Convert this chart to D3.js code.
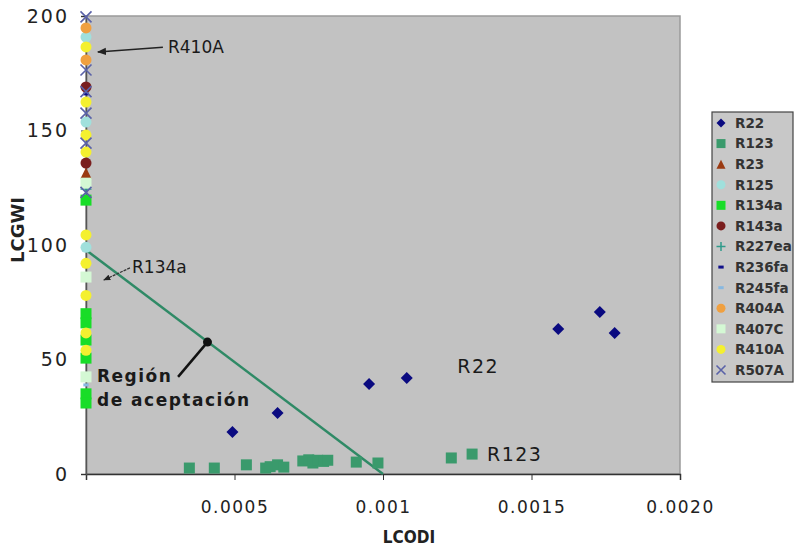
<!DOCTYPE html>
<html>
<head>
<meta charset="utf-8">
<title>LCODI vs LCGWI</title>
<style>
    body { margin: 0; background: #fff; }
    svg { display: block; font-family: "DejaVu Sans", sans-serif; }
</style>
</head>
<body>
<svg width="801" height="549"></svg>
<script src="https://d3js.org/d3.v7.min.js"></script>
<script>

// ---- data (x = LCODI, y = LCGWI) ----
var names = ["R22", "R123", "R23", "R125", "R134a", "R143a", "R227ea", "R236fa", "R245fa", "R404A", "R407C", "R410A", "R507A"];

var r22 = [[0.000493, 18.3], [0.000645, 26.6], [0.000953, 39.3], [0.00108, 41.9], [0.00159, 63.3], [0.00173, 70.7], [0.00178, 61.6]];
var r123 = [[0.000348, 2.6], [0.000432, 2.6], [0.00054, 4], [0.000605, 2.6], [0.00062, 3.2], [0.000645, 4], [0.000666, 3],
            [0.00073, 5.7], [0.00075, 6.2], [0.000764, 4.8], [0.00078, 6], [0.0008, 5.5], [0.000814, 6],
            [0.00091, 5.2], [0.000983, 4.8], [0.00123, 7], [0.0013, 8.7]];
var r23 = [[0, 131.4]];
var r125 = [[0, 190.8], [0, 153.7], [0, 99]];
var r134a = [[0, 119.6], [0, 70], [0, 66], [0, 58.5], [0, 50.6], [0, 35], [0, 31]];
var r143a = [[0, 169], [0, 135.8]];
var r227ea = [[0, 124.5]];
var r236fa = [[0, 166]];
var r245fa = [[0, 38.9]];
var r404a = [[0, 194.8], [0, 180.8]];
var r407c = [[0, 127], [0, 86], [0, 42.4]];
var r410a = [[0, 186.5], [0, 162.4], [0, 148], [0, 140.6], [0, 104.4], [0, 92], [0, 78], [0, 61.6], [0, 54]];
var r507a = [[0, 199.6], [0, 176.4], [0, 167], [0, 157.6], [0, 144.5], [0, 123]];

var seriesData = [r22, r123, r23, r125, r134a, r143a, r227ea, r236fa, r245fa, r404a, r407c, r410a, r507a];

// acceptance limit line
var limitX = [0, 0.001];
var limitY = [97.8, 0];

var xTicks = [0, 0.0005, 0.001, 0.0015, 0.002];
var xTickLabels = ["", "0.0005", "0.001", "0.0015", "0.0020"];
var yTicks = [0, 50, 100, 150, 200];

// ---- marker styles ----
var styles = {
    "R22":    { shape: "diamond", fill: "#0a0a80", size: 12 },
    "R123":   { shape: "square",  fill: "#3a9a6c", size: 11 },
    "R23":    { shape: "triangle", fill: "#9a3a12", size: 11 },
    "R125":   { shape: "circle",  fill: "#a0e0dc", size: 11 },
    "R134a":  { shape: "square",  fill: "#18dd28", size: 11 },
    "R143a":  { shape: "circle",  fill: "#7a1e1e", size: 11 },
    "R227ea": { shape: "plus",    fill: "#2f9a8a", size: 11 },
    "R236fa": { shape: "dash",    fill: "#10108a", size: 8 },
    "R245fa": { shape: "dash",    fill: "#88b8e0", size: 8 },
    "R404A":  { shape: "circle",  fill: "#f0a040", size: 11 },
    "R407C":  { shape: "square",  fill: "#d4f8d4", size: 11 },
    "R410A":  { shape: "circle",  fill: "#f4f030", size: 11 },
    "R507A":  { shape: "cross",   fill: "#5a62a8", size: 11 }
};

var svg = d3.select("svg");
var margin = { left: 86, top: 16, right: 680, bottom: 474 };

var x = d3.scaleLinear().domain([0, 0.002]).range([margin.left, margin.right]);
var y = d3.scaleLinear().domain([0, 200]).range([margin.bottom, margin.top]);

// plot area
svg.append("rect")
    .attr("x", x(0)).attr("y", y(200))
    .attr("width", x(0.002) - x(0)).attr("height", y(0) - y(200))
    .attr("fill", "#c2c2c2")
    .attr("stroke", "#9a9a9a").attr("stroke-width", 1.5);

// axes
var xAxis = svg.append("g")
    .attr("transform", "translate(0," + y(0) + ")")
    .call(d3.axisBottom(x).tickValues(xTicks).tickSize(6).tickPadding(21)
        .tickFormat(function(d, i) { return xTickLabels[i]; }));
xAxis.attr("font-family", "DejaVu Sans").attr("font-size", 17);
xAxis.select(".domain").attr("stroke", "#333").attr("stroke-width", 1.5);
xAxis.selectAll(".tick line").attr("stroke", "#333");
xAxis.selectAll(".tick text").attr("fill", "#222").attr("letter-spacing", 1.5);

var yAxis = svg.append("g")
    .attr("transform", "translate(" + x(0) + ",0)")
    .call(d3.axisLeft(y).tickValues(yTicks).tickSize(5).tickPadding(12));
yAxis.attr("font-family", "DejaVu Sans").attr("font-size", 19);
yAxis.select(".domain").attr("stroke", "#555").attr("stroke-width", 1.5);
yAxis.selectAll(".tick line").attr("stroke", "#333");
yAxis.selectAll(".tick text").attr("fill", "#222").attr("letter-spacing", 2).attr("dy", "0.34em");

// axis titles
svg.append("text")
    .attr("x", 409).attr("y", 543)
    .attr("text-anchor", "middle")
    .attr("font-family", "DejaVu Sans Condensed, DejaVu Sans")
    .attr("font-weight", "bold").attr("font-size", 17).attr("fill", "#222")
    .text("LCODI");

svg.append("text")
    .attr("transform", "translate(24," + 230 + ") rotate(-90)")
    .attr("text-anchor", "middle")
    .attr("font-weight", "bold").attr("font-size", 18).attr("fill", "#222")
    .text("LCGWI");

// acceptance line
svg.append("path")
    .datum(d3.zip(limitX, limitY))
    .attr("d", d3.line().x(function(d) { return x(d[0]); }).y(function(d) { return y(d[1]); }))
    .attr("stroke", "#2f8a66").attr("stroke-width", 2.5).attr("fill", "none");

// markers
function drawMarker(g, st) {
    var s = st.size, h = s / 2;
    if (st.shape == "square") {
        g.append("rect").attr("x", -h).attr("y", -h).attr("width", s).attr("height", s).attr("fill", st.fill);
    } else if (st.shape == "circle") {
        g.append("circle").attr("r", h).attr("fill", st.fill);
    } else if (st.shape == "diamond") {
        g.append("path").attr("d", "M0," + (-h) + "L" + h + ",0L0," + h + "L" + (-h) + ",0Z").attr("fill", st.fill);
    } else if (st.shape == "triangle") {
        g.append("path").attr("d", "M0," + (-h) + "L" + h + "," + h + "L" + (-h) + "," + h + "Z").attr("fill", st.fill);
    } else if (st.shape == "plus") {
        g.append("path").attr("d", "M" + (-h) + ",0H" + h + "M0," + (-h) + "V" + h).attr("stroke", st.fill).attr("stroke-width", 1.5);
    } else if (st.shape == "dash") {
        g.append("path").attr("d", "M" + (-h / 1.5) + ",0H" + (h / 1.5)).attr("stroke", st.fill).attr("stroke-width", 3);
    } else if (st.shape == "cross") {
        g.append("path").attr("d", "M" + (-h) + "," + (-h) + "L" + h + "," + h + "M" + h + "," + (-h) + "L" + (-h) + "," + h)
            .attr("stroke", st.fill).attr("stroke-width", 1.6);
    }
}

var pts = svg.append("g");
names.forEach(function(name, i) {
    seriesData[i].forEach(function(p) {
        var g = pts.append("g").attr("transform", "translate(" + x(p[0]) + "," + y(p[1]) + ")");
        drawMarker(g, styles[name]);
    });
});

// annotations
var ann = svg.append("g").attr("fill", "#1a1a1a");

svg.append("defs").append("marker")
    .attr("id", "arrow").attr("viewBox", "0 0 10 10").attr("refX", 9).attr("refY", 5)
    .attr("markerWidth", 6).attr("markerHeight", 6).attr("orient", "auto")
    .append("path").attr("d", "M0,1L10,5L0,9Z").attr("fill", "#222");

ann.append("line")
    .attr("x1", x(0.000259)).attr("y1", y(186.3)).attr("x2", x(0.00004)).attr("y2", y(184.3))
    .attr("stroke", "#222").attr("stroke-width", 1.5).attr("marker-end", "url(#arrow)");
ann.append("text").attr("x", x(0.000276)).attr("y", y(186.5)).attr("dy", "0.36em")
    .attr("font-size", 17).text("R410A");

ann.append("line")
    .attr("x1", x(0.000148)).attr("y1", y(90)).attr("x2", x(0.00006)).attr("y2", y(84.7))
    .attr("stroke", "#333").attr("stroke-width", 1.2).attr("stroke-dasharray", "3,1").attr("marker-end", "url(#arrow)");
ann.append("text").attr("x", x(0.000155)).attr("y", y(90.4)).attr("dy", "0.36em")
    .attr("font-size", 17).text("R134a");

ann.append("line")
    .attr("x1", x(0.000409)).attr("y1", y(57.6)).attr("x2", x(0.00031)).attr("y2", y(42.4))
    .attr("stroke", "#111").attr("stroke-width", 2.5);
ann.append("circle").attr("cx", x(0.000409)).attr("cy", y(57.6)).attr("r", 4.5).attr("fill", "#111");
ann.append("text").attr("x", x(0.000037)).attr("y", y(42.8)).attr("dy", "0.36em")
    .attr("font-size", 17).attr("font-weight", "bold").attr("letter-spacing", 1.5).text("Región");
ann.append("text").attr("x", x(0.000037)).attr("y", y(32.3)).attr("dy", "0.36em")
    .attr("font-size", 17).attr("font-weight", "bold").attr("letter-spacing", 1.5).text("de aceptación");

ann.append("text").attr("x", x(0.00125)).attr("y", y(47)).attr("dy", "0.36em")
    .attr("font-size", 19).attr("letter-spacing", 1.5).text("R22");
ann.append("text").attr("x", x(0.00135)).attr("y", y(8.7)).attr("dy", "0.36em")
    .attr("font-size", 19).attr("letter-spacing", 1.5).text("R123");

// legend
var legend = svg.append("g").attr("transform", "translate(712,112)");
legend.append("rect").attr("width", 81).attr("height", 270)
    .attr("fill", "#c8c8c8").attr("stroke", "#444").attr("stroke-width", 1.2);
var ly = d3.scalePoint().domain(names).range([11, 258]);
names.forEach(function(name) {
    var g = legend.append("g").attr("transform", "translate(9," + ly(name) + ")");
    var st = Object.assign({}, styles[name], { size: Math.min(styles[name].size, 9) });
    drawMarker(g, st);
    legend.append("text").attr("x", 23).attr("y", ly(name)).attr("dy", "0.36em")
        .attr("font-size", 13.5).attr("font-weight", "bold").attr("fill", "#333").text(name);
});

</script>
</body>
</html>
